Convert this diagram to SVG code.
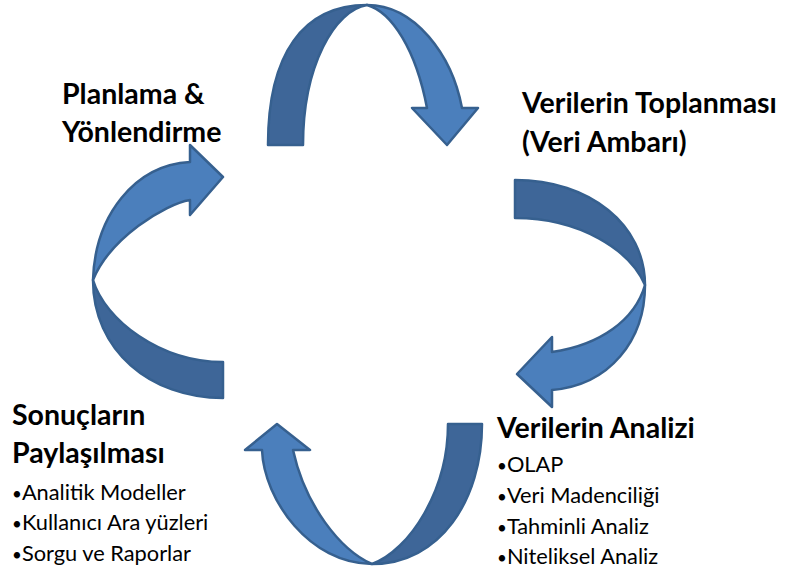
<svg xmlns="http://www.w3.org/2000/svg" width="786" height="577" viewBox="0 0 786 577">
  <style>
    .head { font-family: Lato, "Liberation Sans", sans-serif; font-weight: bold; font-size: 28.5px; fill: #000; }
    .item { font-family: Lato, "Liberation Sans", sans-serif; font-size: 21.8px; fill: #000; }
    .dot { font-size: 17px; }
    .back { fill: #3E6698; stroke: #36608F; stroke-width: 2.5; stroke-linejoin: round; }
    .front { fill: #4B7FBC; stroke: #36608F; stroke-width: 2.5; stroke-linejoin: round; }
  </style>
  <rect width="786" height="577" fill="#fff"/>

  <!-- curved cycle arrows: darker back band, lighter front band with head -->
  <g id="connectors">
    <!-- top: planning -> data collection -->
    <path class="back" d="M268,145 C268,54 303,5 367,5 C335,10 303,65 303,145 Z"/>
    <path class="front" d="M367,5 C415,5 452,55 462,108 L478,108 L447,145 L412,108 L427,108 C416,50 392,12 367,5 Z"/>
    <!-- right: data collection -> analysis -->
    <path class="back" d="M515,180 C590,180 645,225 645,285 C630,250 580,218 515,218 Z"/>
    <path class="front" d="M645,285 C645,340 610,385 552,390 L552,407 L517,374 L552,337 L552,352 C600,345 635,320 645,285 Z"/>
    <!-- bottom: analysis -> sharing results -->
    <path class="back" d="M482,424 C482,500 440,564 372,564 C410,550 448,490 448,424 Z"/>
    <path class="front" d="M372,564 C310,564 264,500 262,450 L245,450 L277,424 L310,450 L293,450 C305,505 340,550 372,564 Z"/>
    <!-- left: sharing results -> planning -->
    <path class="back" d="M223,398 C150,398 93,350 93,280 C105,320 160,362 223,362 Z"/>
    <path class="front" d="M93,280 C95,215 135,165 190,162 L190,145 L223,177 L190,215 L190,200 C165,204 110,238 93,280 Z"/>
  </g>

  <g id="planlama">
    <text class="head" x="62" y="104">Planlama &amp;</text>
    <text class="head" x="62" y="142">Yönlendirme</text>
  </g>

  <g id="toplanma">
    <text class="head" x="522" y="113">Verilerin Toplanması</text>
    <text class="head" x="522" y="152">(Veri Ambarı)</text>
  </g>

  <g id="analiz">
    <text class="head" x="497" y="438">Verilerin Analizi</text>
    <text class="item" x="497" y="472"><tspan class="dot">•</tspan>OLAP</text>
    <text class="item" x="497" y="503"><tspan class="dot">•</tspan>Veri Madenciliği</text>
    <text class="item" x="497" y="534"><tspan class="dot">•</tspan>Tahminli Analiz</text>
    <text class="item" x="497" y="564"><tspan class="dot">•</tspan>Niteliksel Analiz</text>
  </g>

  <g id="paylasim">
    <text class="head" x="12" y="425">Sonuçların</text>
    <text class="head" x="12" y="463">Paylaşılması</text>
    <text class="item" x="12" y="500"><tspan class="dot">•</tspan>Analitik Modeller</text>
    <text class="item" x="12" y="530"><tspan class="dot">•</tspan>Kullanıcı Ara yüzleri</text>
    <text class="item" x="12" y="561"><tspan class="dot">•</tspan>Sorgu ve Raporlar</text>
  </g>
</svg>
